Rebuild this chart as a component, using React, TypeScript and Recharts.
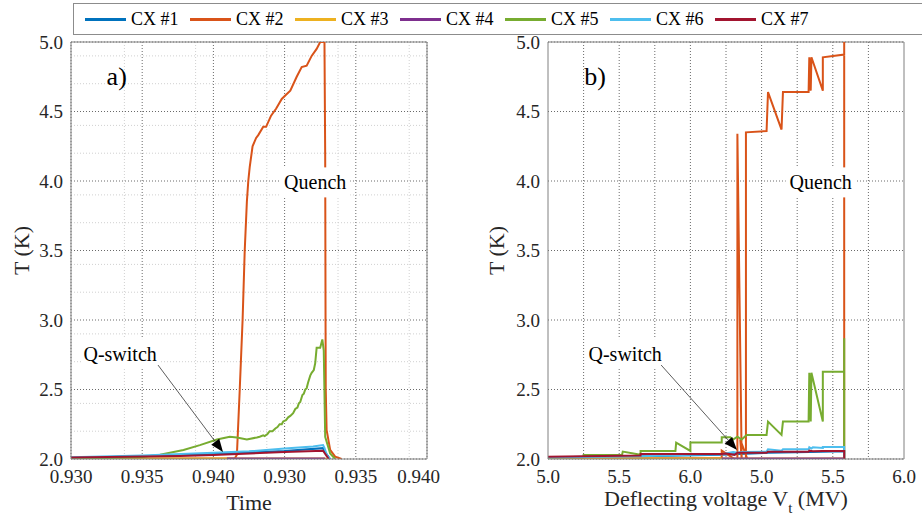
import React from "react";
import {
  LineChart,
  Line,
  XAxis,
  YAxis,
  CartesianGrid,
  ReferenceLine,
  ReferenceDot,
} from "recharts";

const FONT = "Liberation Serif, Tinos, DejaVu Serif, serif";

const seriesNames = ["CX #1", "CX #2", "CX #3", "CX #4", "CX #5", "CX #6", "CX #7"];
const seriesColors = ["#0072BD", "#D95319", "#EDB120", "#7E2F8E", "#77AC30", "#4DBEEE", "#A2142F"];

// x positions are in tick steps (0..5), labels come from these arrays
const xTicks = [0, 1, 2, 3, 4, 5];
const timeTickLabels = ["0.930", "0.935", "0.940", "0.930", "0.935", "0.940"];
const voltTickLabels = ["5.0", "5.5", "6.0", "5.0", "5.5", "6.0"];
const tempTicks = [2.0, 2.5, 3.0, 3.5, 4.0, 4.5, 5.0];

const timeMinorX = [0.25, 0.5, 0.75, 1.25, 1.5, 1.75, 2.25, 2.5, 2.75, 3.25, 3.5, 3.75, 4.25, 4.5, 4.75];
const tempMinorY = [
  2.1, 2.2, 2.3, 2.4, 2.6, 2.7, 2.8, 2.9, 3.1, 3.2, 3.3, 3.4, 3.6, 3.7, 3.8, 3.9,
  4.1, 4.2, 4.3, 4.4, 4.6, 4.7, 4.8, 4.9,
];
const voltGridX = [0.5, 1, 1.5, 2, 2.5, 3, 3.5, 4, 4.5];

// ---- panel a) : T vs time  [x, T]
const cx1Time = [[0, 2.008], [1, 2.02], [2, 2.038], [3, 2.058], [3.54, 2.078], [3.58, 2.04], [3.64, 2.0]];
const cx2Time = [
  [0, 2.004], [1, 2.004], [2, 2.004], [2.3, 2.004], [2.33, 2.03], [2.37, 2.5], [2.41, 3.0],
  [2.44, 3.5], [2.47, 3.85], [2.49, 4.0], [2.51, 4.1], [2.55, 4.25], [2.6, 4.31], [2.63, 4.33],
  [2.7, 4.39], [2.74, 4.39], [2.81, 4.47], [2.88, 4.52], [2.96, 4.59], [3.02, 4.62], [3.08, 4.65],
  [3.17, 4.75], [3.24, 4.82], [3.31, 4.83], [3.38, 4.9], [3.45, 4.95], [3.5, 5.0], [3.56, 5.0],
  [3.57, 4.2], [3.575, 3.0], [3.578, 2.5], [3.59, 2.21], [3.64, 2.065], [3.71, 2.017], [3.8, 2.0],
];
const cx3Time = [[0, 2.003], [3.55, 2.003], [3.6, 2.0]];
const cx4Time = [[2.19, 2.003], [3.57, 2.003]];
const cx5Time = [
  [0, 2.005], [0.5, 2.008], [1.0, 2.015], [1.25, 2.03], [1.58, 2.065], [1.81, 2.1], [2.05, 2.14],
  [2.23, 2.16], [2.33, 2.155], [2.47, 2.14], [2.61, 2.155], [2.65, 2.16], [2.7, 2.17], [2.72, 2.165],
  [2.76, 2.18], [2.79, 2.2], [2.83, 2.2], [2.87, 2.22], [2.9, 2.23], [2.93, 2.25], [2.96, 2.25],
  [2.98, 2.27], [3.02, 2.28], [3.05, 2.3], [3.08, 2.31], [3.12, 2.33], [3.15, 2.36], [3.18, 2.37],
  [3.2, 2.4], [3.22, 2.41], [3.25, 2.46], [3.27, 2.47], [3.29, 2.5], [3.31, 2.51], [3.33, 2.55],
  [3.36, 2.6], [3.38, 2.62], [3.41, 2.64], [3.43, 2.69], [3.45, 2.8], [3.5, 2.8], [3.53, 2.86],
  [3.55, 2.78], [3.57, 2.16], [3.64, 2.04], [3.71, 2.0],
];
const cx6Time = [[0, 2.012], [1, 2.025], [2, 2.045], [2.5, 2.055], [3, 2.075], [3.4, 2.09], [3.54, 2.1], [3.56, 2.08], [3.6, 2.02], [3.64, 2.0]];
const cx7Time = [[0, 2.01], [1.53, 2.022], [2.0, 2.029], [3.0, 2.05], [3.54, 2.06], [3.58, 2.03], [3.62, 2.0]];

// ---- panel b) : T vs deflecting voltage  [x, T]
const cx1Volt = [[0, 2.012], [1.3, 2.02], [2.44, 2.03], [3.09, 2.045], [3.67, 2.05], [4.16, 2.055], [4.16, 2.0]];
const cx2Volt = [
  [0, 2.005], [2.44, 2.005], [2.44, 2.06], [2.62, 2.0], [2.66, 2.0], [2.66, 4.34], [2.72, 2.0],
  [2.7, 2.14], [2.8, 2.0], [2.78, 2.0], [2.78, 4.35], [3.07, 4.36], [3.09, 4.64], [3.28, 4.37],
  [3.3, 4.64], [3.66, 4.64], [3.67, 4.89], [3.69, 4.65], [3.7, 4.89], [3.86, 4.65], [3.86, 4.89],
  [4.16, 4.91], [4.16, 5.0], [4.16, 2.0],
];
const cx3Volt = [[0, 2.003], [4.16, 2.003], [4.16, 2.0]];
const cx4Volt = [[2.44, 2.003], [4.16, 2.003]];
const cx5Volt = [
  [0, 2.013], [0.5, 2.013], [0.5, 2.029], [1.04, 2.029], [1.05, 2.053], [1.3, 2.03], [1.3, 2.058],
  [1.79, 2.058], [1.8, 2.118], [2.0, 2.058], [2.0, 2.118], [2.44, 2.118], [2.44, 2.156], [2.56, 2.156],
  [2.6, 2.14], [2.66, 2.16], [2.72, 2.14], [2.79, 2.173], [3.07, 2.173], [3.09, 2.269], [3.28, 2.173],
  [3.3, 2.269], [3.66, 2.269], [3.67, 2.621], [3.69, 2.27], [3.7, 2.621], [3.86, 2.27], [3.86, 2.628],
  [4.16, 2.628], [4.16, 2.868], [4.16, 2.0],
];
const cx6Volt = [
  [0, 2.01], [0.5, 2.015], [1.3, 2.02], [2.0, 2.03], [2.44, 2.035], [2.6, 2.05], [2.66, 2.045],
  [2.72, 2.05], [3.07, 2.053], [3.09, 2.07], [3.28, 2.06], [3.3, 2.07], [3.66, 2.07], [3.67, 2.085],
  [3.7, 2.075], [3.72, 2.085], [3.86, 2.08], [3.86, 2.087], [4.16, 2.087], [4.16, 2.0],
];
const cx7Volt = [
  [0, 2.016], [0.5, 2.02], [1.3, 2.025], [1.3, 2.036], [2.44, 2.036], [2.5, 2.04], [2.62, 2.03],
  [2.66, 2.045], [3.07, 2.045], [3.09, 2.053], [3.66, 2.053], [3.67, 2.06], [3.72, 2.055],
  [3.86, 2.058], [4.16, 2.058], [4.16, 2.0],
];

const timeSeries = [cx1Time, cx2Time, cx3Time, cx4Time, cx5Time, cx6Time, cx7Time];
const voltSeries = [cx1Volt, cx2Volt, cx3Volt, cx4Volt, cx5Volt, cx6Volt, cx7Volt];

const toPts = (p: number[][]) => p.map(([x, y]) => ({ x, y }));

const tickStyle = { fill: "#262626", fontSize: 19, fontFamily: FONT };

const panelLetter = (txt: string) => (p: any) => (
  <text x={p.cx} y={p.cy} fontSize={26} fontFamily={FONT} fill="#000">
    {txt}
  </text>
);

const boxedText = (txt: string, w: number) => (p: any) => (
  <g>
    <rect x={p.cx - w / 2} y={p.cy - 15} width={w} height={30} fill="#fff" />
    <text x={p.cx} y={p.cy + 7} textAnchor="middle" fontSize={20} fontFamily={FONT} fill="#000">
      {txt}
    </text>
  </g>
);

const arrowShape = (p: any) => {
  const { x1, y1, x2, y2 } = p;
  const a = Math.atan2(y2 - y1, x2 - x1);
  const L = 13;
  const W = 5;
  const bx = x2 - L * Math.cos(a);
  const by = y2 - L * Math.sin(a);
  const pts = `${x2},${y2} ${bx - W * Math.sin(a)},${by + W * Math.cos(a)} ${bx + W * Math.sin(a)},${by - W * Math.cos(a)}`;
  return (
    <g>
      <line x1={x1} y1={y1} x2={bx} y2={by} stroke="#333" strokeWidth={0.8} />
      <polygon points={pts} fill="#000" />
    </g>
  );
};

interface PanelProps {
  series: number[][][];
  xLabels: string[];
  width: number;
  yAxisWidth: number;
  marginRight: number;
  yTitleX: number;
  xTitle: (vb: any) => React.ReactNode;
  minorX?: number[];
  minorY?: number[];
  majorX: number[];
  letter: string;
  letterPos: [number, number];
  quenchPos: [number, number];
  qswitchPos: [number, number];
  arrow: [number, number, number, number];
}

function Panel(props: PanelProps) {
  const { series, xLabels, width, yAxisWidth, marginRight, yTitleX, xTitle } = props;
  return (
    <LineChart
      width={width}
      height={525}
      margin={{ top: 42, right: marginRight, left: 0, bottom: 0 }}
    >
      {props.minorX && props.minorY && (
        <CartesianGrid
          stroke="#d0d0d0"
          strokeDasharray="1 2"
          verticalValues={props.minorX}
          horizontalValues={props.minorY}
        />
      )}
      <CartesianGrid
        stroke="#6a6a6a"
        strokeDasharray="1 2"
        verticalValues={props.majorX}
        horizontalValues={tempTicks}
      />
      <XAxis
        dataKey="x"
        type="number"
        domain={[0, 5]}
        ticks={xTicks}
        allowDataOverflow
        tickFormatter={(v: number) => xLabels[Math.round(v)]}
        tick={tickStyle}
        tickLine={false}
        tickSize={0}
        tickMargin={11}
        height={66}
        stroke="#808080"
        label={{ content: (p: any) => xTitle(p.viewBox) }}
      />
      <YAxis
        dataKey="y"
        type="number"
        domain={[2, 5]}
        ticks={tempTicks}
        allowDataOverflow
        tickFormatter={(v: number) => v.toFixed(1)}
        tick={tickStyle}
        tickLine={false}
        tickSize={0}
        tickMargin={8}
        width={yAxisWidth}
        stroke="#808080"
        label={{
          content: (p: any) => {
            const vb = p.viewBox;
            const cy = vb.y + vb.height / 2;
            return (
              <text
                x={vb.x + yTitleX}
                y={cy}
                transform={`rotate(-90 ${vb.x + yTitleX} ${cy})`}
                textAnchor="middle"
                fontSize={22}
                fontFamily={FONT}
                fill="#262626"
              >
                T (K)
              </text>
            );
          },
        }}
      />
      <ReferenceLine y={5} stroke="#808080" strokeWidth={1} />
      <ReferenceLine x={5} stroke="#808080" strokeWidth={1} />
      {series.map((s, i) => (
        <Line
          key={seriesNames[i]}
          data={toPts(s)}
          dataKey="y"
          name={seriesNames[i]}
          type="linear"
          stroke={seriesColors[i]}
          strokeWidth={2}
          dot={false}
          activeDot={false}
          isAnimationActive={false}
        />
      ))}
      <ReferenceDot
        x={props.quenchPos[0]}
        y={props.quenchPos[1]}
        r={1}
        zIndex={1000}
        shape={boxedText("Quench", 70)}
      />
      <ReferenceDot
        x={props.qswitchPos[0]}
        y={props.qswitchPos[1]}
        r={1}
        zIndex={1000}
        shape={boxedText("Q-switch", 78)}
      />
      <ReferenceLine
        segment={[
          { x: props.arrow[0], y: props.arrow[1] },
          { x: props.arrow[2], y: props.arrow[3] },
        ]}
        zIndex={1000}
        shape={arrowShape}
      />
      <ReferenceDot
        x={props.letterPos[0]}
        y={props.letterPos[1]}
        r={1}
        zIndex={1000}
        shape={panelLetter(props.letter)}
      />
    </LineChart>
  );
}

function LegendBox() {
  return (
    <div
      style={{
        position: "absolute",
        left: 73,
        top: 3,
        width: 843,
        height: 30,
        border: "1px solid #8c8c8c",
        background: "#fff",
        display: "flex",
        alignItems: "center",
        paddingLeft: 11,
        boxSizing: "content-box",
      }}
    >
      {seriesNames.map((n, i) => (
        <div key={n} style={{ display: "flex", alignItems: "center", width: 105 }}>
          <div style={{ width: 41, height: 3, background: seriesColors[i], marginRight: 5 }} />
          <span style={{ fontSize: 18, fontFamily: FONT, color: "#000" }}>{n}</span>
        </div>
      ))}
    </div>
  );
}

export default function App() {
  return (
    <div
      style={{
        position: "absolute",
        left: 0,
        top: 0,
        width: 922,
        height: 525,
        background: "#fff",
        fontFamily: FONT,
      }}
    >
      <div style={{ position: "absolute", left: 0, top: 0 }}>
        <Panel
          series={timeSeries}
          xLabels={timeTickLabels}
          width={440}
          yAxisWidth={71}
          marginRight={13}
          yTitleX={29}
          minorX={timeMinorX}
          minorY={tempMinorY}
          majorX={xTicks}
          letter="a)"
          letterPos={[0.5, 4.69]}
          quenchPos={[3.43, 3.99]}
          qswitchPos={[0.69, 2.755]}
          arrow={[1.222, 2.676, 2.135, 2.05]}
          xTitle={(vb: any) => (
            <text
              x={vb.x + vb.width / 2}
              y={vb.y + 51}
              textAnchor="middle"
              fontSize={22}
              fontFamily={FONT}
              fill="#262626"
            >
              Time
            </text>
          )}
        />
      </div>
      <div style={{ position: "absolute", left: 460, top: 0 }}>
        <Panel
          series={voltSeries}
          xLabels={voltTickLabels}
          width={460}
          yAxisWidth={88}
          marginRight={16}
          yTitleX={44}
          majorX={voltGridX}
          letter="b)"
          letterPos={[0.51, 4.69]}
          quenchPos={[3.83, 3.99]}
          qswitchPos={[1.084, 2.755]}
          arrow={[1.589, 2.676, 2.655, 2.065]}
          xTitle={(vb: any) => (
            <text
              x={vb.x + vb.width / 2}
              y={vb.y + 47}
              textAnchor="middle"
              fontSize={22}
              fontFamily={FONT}
              fill="#262626"
            >
              <tspan>Deflecting voltage V</tspan>
              <tspan dy={7} fontSize={15}>t</tspan>
              <tspan dy={-7}> (MV)</tspan>
            </text>
          )}
        />
      </div>
      <LegendBox />
    </div>
  );
}
